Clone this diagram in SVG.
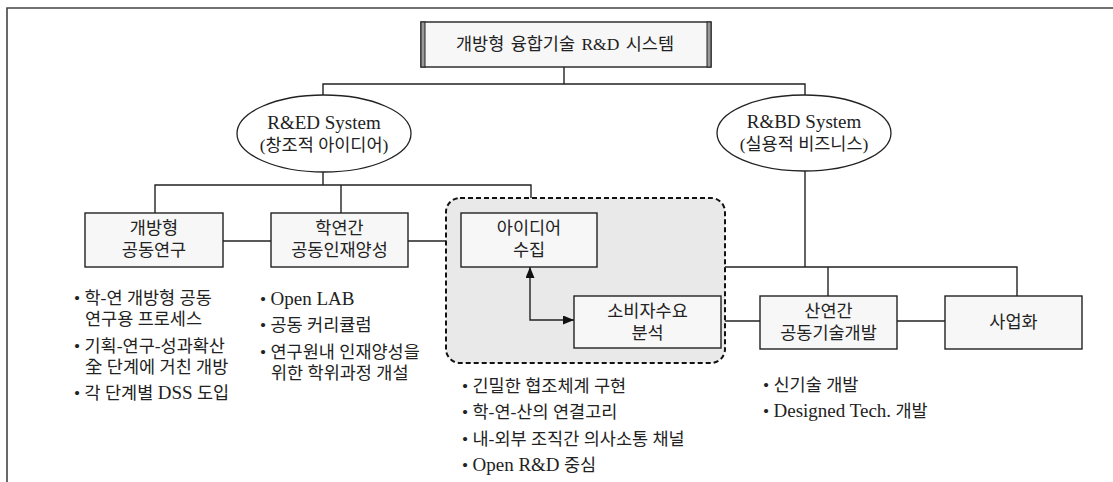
<svg xmlns="http://www.w3.org/2000/svg" width="1113" height="482" viewBox="0 0 1113 482">
<style>
  text { font-family: "Liberation Serif", "Noto Sans CJK KR", serif; font-size: 17.5px; fill: #222; }
  .lat { font-size: 19px; }
  .c { text-anchor: middle; }
  .box { fill: #f7f7f7; stroke: #222; stroke-width: 1.4; }
  .ell { fill: #ffffff; stroke: #222; stroke-width: 1.3; }
  .ln { fill: none; stroke: #222; stroke-width: 1.4; }
  .frame { fill: none; stroke: #444; stroke-width: 1.6; }
</style>
<defs>
  <marker id="ah" viewBox="0 0 11 9" refX="11" refY="4.5" markerWidth="11" markerHeight="9" markerUnits="userSpaceOnUse" orient="auto-start-reverse">
    <path d="M0,0 L11,4.5 L0,9 z" fill="#111"/>
  </marker>
</defs>
<rect width="1113" height="482" fill="#ffffff"/>
<path class="frame" d="M7,482 V8 H1113"/>

<g id="idea-group">
  <rect x="446" y="198" width="279" height="165" rx="14" ry="14" fill="#e9e9e9" stroke="#111" stroke-width="2" stroke-dasharray="5 3"/>
  <text x="462" y="392">• 긴밀한 협조체계 구현</text>
  <text x="462" y="418">• 학-연-산의 연결고리</text>
  <text x="462" y="445">• 내-외부 조직간 의사소통 채널</text>
  <text x="462" y="471">• <tspan class="lat">Open R&amp;D</tspan> 중심</text>
</g>

<g id="connectors">
  <path class="ln" d="M564,67 V84"/>
  <path class="ln" d="M323,95 V84 H805 V95"/>
  <path class="ln" d="M323,172 V185"/>
  <path class="ln" d="M155,213 V185 H531 V198"/>
  <path class="ln" d="M341,185 V213"/>
  <path class="ln" d="M223,241 H271"/>
  <path class="ln" d="M408,241 H446"/>
  <path class="ln" d="M805,171 V267"/>
  <path class="ln" d="M725,267 H1017 V296"/>
  <path class="ln" d="M828,267 V296"/>
  <path class="ln" d="M725,321 H760"/>
  <path class="ln" d="M897,321 H945"/>
  <path class="ln" d="M530,267 V320 H574" marker-start="url(#ah)" marker-end="url(#ah)"/>
</g>

<g id="title">
  <rect class="box" x="421" y="22" width="290" height="45"/>
  <rect x="421" y="22" width="4" height="45" fill="#999" stroke="#222" stroke-width="1"/>
  <rect x="707" y="22" width="4" height="45" fill="#999" stroke="#222" stroke-width="1"/>
  <text class="c" x="565" y="50" style="word-spacing:2px">개방형 융합기술 R&amp;D 시스템</text>
</g>

<g id="red-system">
  <ellipse class="ell" cx="324" cy="133.5" rx="87" ry="38.5"/>
  <text class="c lat" x="324" y="129">R&amp;ED System</text>
  <text class="c" x="324" y="151">(창조적 아이디어)</text>
</g>

<g id="rbd-system">
  <ellipse class="ell" cx="804" cy="133" rx="87" ry="38"/>
  <text class="c lat" x="804" y="128">R&amp;BD System</text>
  <text class="c" x="804" y="150">(실용적 비즈니스)</text>
</g>

<g id="open-joint-research">
  <rect class="box" x="85" y="213" width="138" height="54"/>
  <text class="c" x="154" y="234">개방형</text>
  <text class="c" x="154" y="256">공동연구</text>
  <text x="74" y="304">• 학-연 개방형 공동</text>
  <text x="85" y="325">연구용 프로세스</text>
  <text x="74" y="352">• 기획-연구-성과확산</text>
  <text x="85" y="373">全 단계에 거친 개방</text>
  <text x="74" y="399">• 각 단계별 <tspan class="lat">DSS</tspan> 도입</text>
</g>

<g id="talent-training">
  <rect class="box" x="271" y="213" width="137" height="54"/>
  <text class="c" x="339.5" y="234">학연간</text>
  <text class="c" x="339.5" y="256">공동인재양성</text>
  <text x="260" y="305">• <tspan class="lat">Open LAB</tspan></text>
  <text x="260" y="331">• 공동 커리큘럼</text>
  <text x="260" y="358">• 연구원내 인재양성을</text>
  <text x="271" y="379">위한 학위과정 개설</text>
</g>

<g id="idea-collection">
  <rect class="box" x="461" y="213" width="136" height="54"/>
  <text class="c" x="529" y="234">아이디어</text>
  <text class="c" x="529" y="256">수집</text>
</g>

<g id="consumer-analysis">
  <rect class="box" x="574" y="296" width="147" height="52"/>
  <text class="c" x="647.5" y="317">소비자수요</text>
  <text class="c" x="647.5" y="339">분석</text>
</g>

<g id="joint-tech-dev">
  <rect class="box" x="760" y="296" width="137" height="53"/>
  <text class="c" x="828.5" y="317">산연간</text>
  <text class="c" x="828.5" y="339">공동기술개발</text>
  <text x="763" y="391">• 신기술 개발</text>
  <text x="763" y="417">• <tspan class="lat">Designed Tech.</tspan> 개발</text>
</g>

<g id="commercialization">
  <rect class="box" x="945" y="296" width="137" height="53"/>
  <text class="c" x="1013.5" y="328">사업화</text>
</g>
</svg>
